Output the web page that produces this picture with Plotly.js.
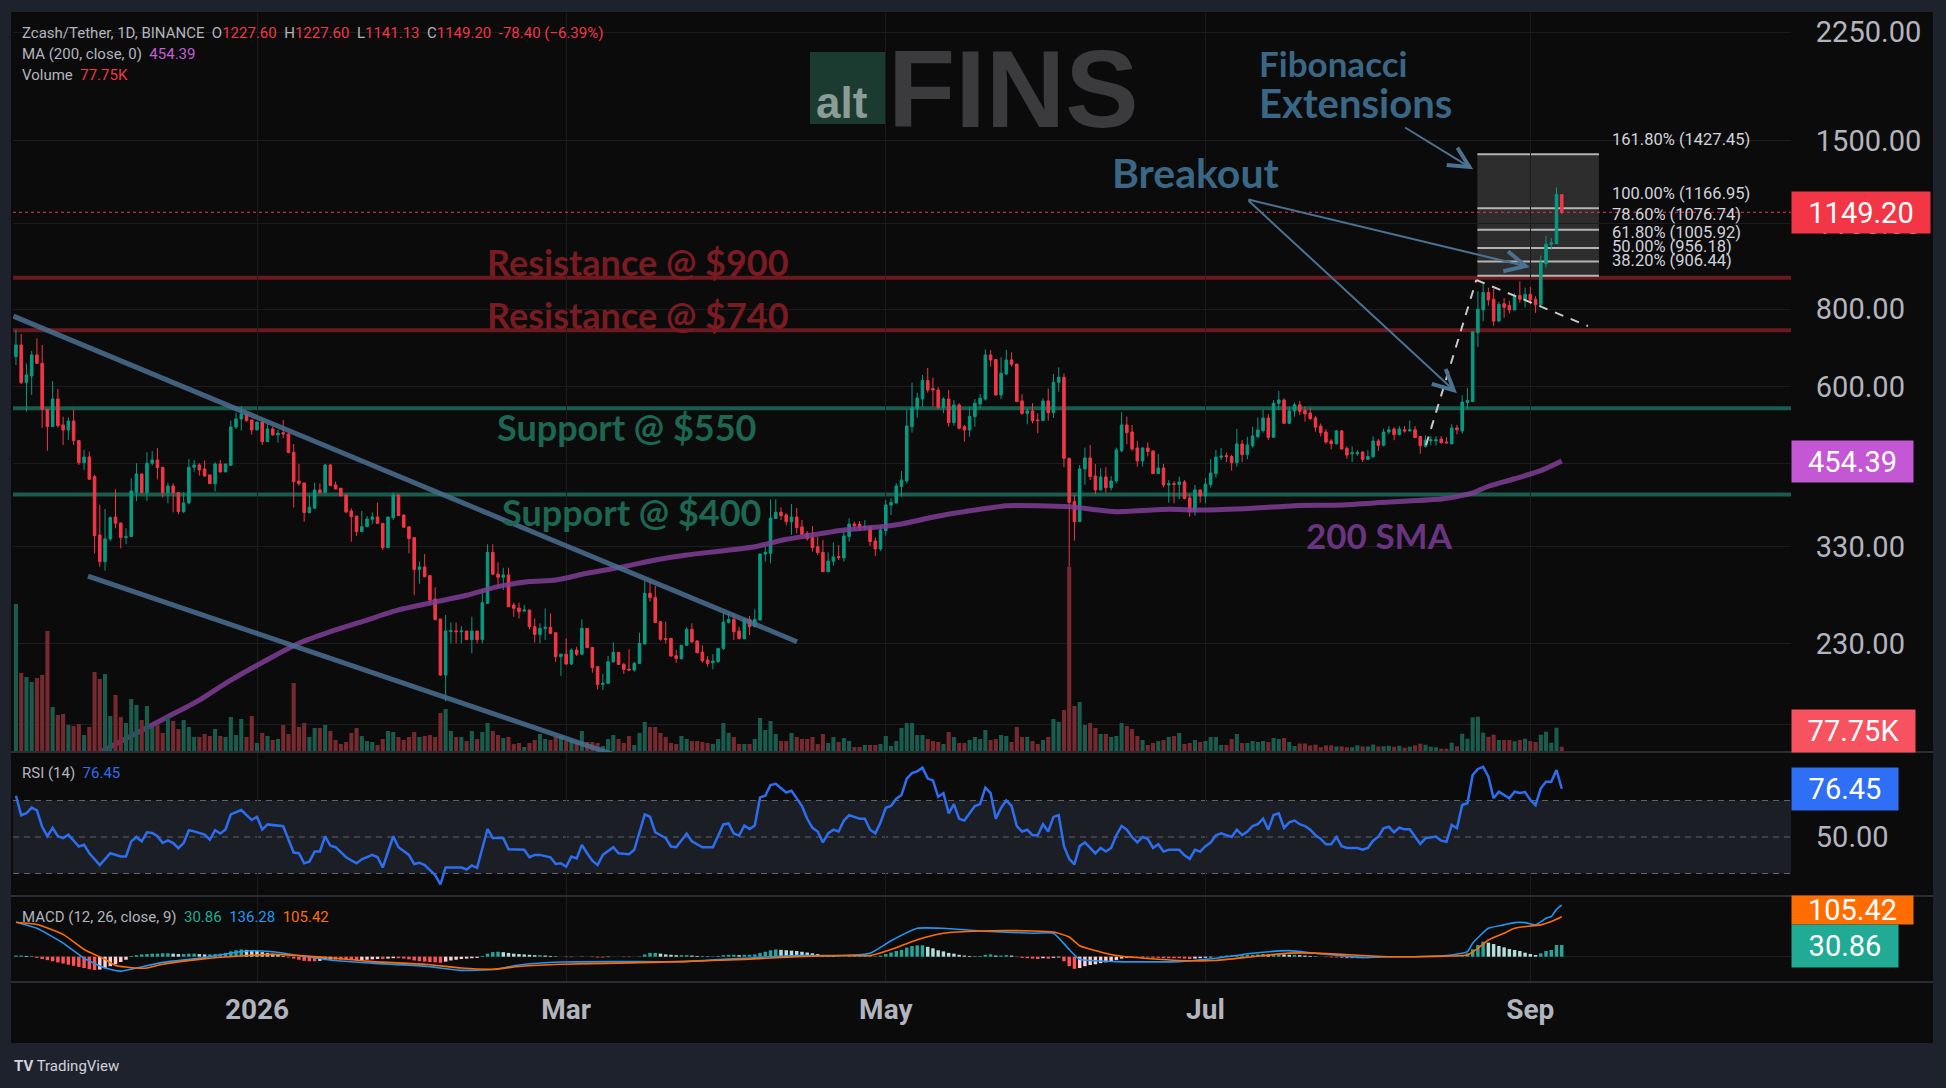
<!DOCTYPE html>
<html><head><meta charset="utf-8">
<script src="https://cdn.plot.ly/plotly-3.0.1.min.js"></script>
<style>html,body{margin:0;padding:0;background:#1e222d;}#chart{width:1946px;height:1088px;}</style>
</head><body><div id="chart"></div>
<script>
// ---------- DATA ----------
const startDate = [2025, 10, 16]; // first candle: 16 Nov 2025 (daily)
const open = [
670.6,700.4,608.6,623.9,674.8,654.1,551.0,516.5,572.6,519.7,
510.1,527.5,490.2,451.5,461.2,428.6,344.7,312.1,339.7,368.6,
360.5,341.3,342.6,404.2,432.9,403.7,450.4,456.1,443.7,403.7,
413.9,403.7,376.1,388.5,443.8,447.6,441.0,431.3,417.5,449.3,
436.1,447.0,515.8,531.5,541.5,529.5,510.1,525.5,488.3,512.0,
500.7,505.0,502.5,469.4,421.7,418.5,374.7,381.0,407.8,403.7,
447.6,415.5,410.4,400.2,377.0,370.0,349.1,355.6,365.5,368.6,
360.0,328.8,367.8,400.2,371.4,355.3,341.3,303.2,305.9,296.2,
271.4,251.9,204.4,240.5,241.0,240.3,240.9,233.3,240.9,233.3,
267.1,323.1,298.0,294.4,297.0,265.4,262.5,259.5,260.6,244.8,
237.9,243.3,244.2,239.4,218.9,221.0,213.0,224.4,221.0,243.3,
226.6,210.9,197.4,198.2,214.8,222.5,212.7,209.0,208.3,213.5,
229.6,277.3,272.9,249.5,234.1,234.4,219.7,217.3,228.4,242.4,
232.1,222.7,216.2,214.0,215.0,225.8,248.6,251.6,240.9,234.1,
251.6,244.8,251.0,321.1,321.9,366.5,375.2,371.4,362.3,368.6,
355.3,346.9,341.3,330.0,323.1,300.6,312.5,318.0,316.4,342.6,
359.2,359.0,354.8,355.6,337.1,327.2,350.3,385.6,388.5,412.9,
421.7,516.5,553.0,572.6,613.2,595.2,592.2,555.0,572.6,524.2,
560.0,516.5,510.1,536.0,562.0,572.6,674.8,663.2,581.3,628.6,
662.3,652.5,568.4,542.8,547.6,529.5,528.2,568.4,544.1,609.4,
620.9,458.9,390.4,362.3,441.0,459.5,429.6,407.8,428.0,411.3,
421.7,472.2,519.7,506.3,477.0,454.4,477.0,471.7,433.4,442.6,
415.5,417.5,416.0,420.2,395.8,376.1,407.8,398.7,416.0,433.4,
460.6,463.5,462.0,451.5,484.1,465.3,481.1,497.6,508.8,533.4,
496.4,563.5,570.5,522.9,547.6,560.2,548.5,543.2,533.5,517.5,
506.2,489.6,484.3,508.3,476.3,466.6,466.6,469.8,457.0,461.4,
489.6,481.6,506.2,511.8,501.3,510.4,508.3,510.4,497.8,479.7,
489.6,489.6,493.0,487.6,484.3,514.0,508.3,564.9,567.0,733.6,
798.2,851.9,830.9,765.6,817.1,811.5,798.2,842.4,830.9,846.0,
830.9,813.8,948.6,1019.9,1022.7,1227.6];
const high = [
740.8,729.8,654.1,685.0,718.0,700.4,551.0,612.4,594.4,536.1,
534.7,549.6,491.4,473.4,470.5,431.3,385.6,379.9,369.1,408.8,
360.5,353.4,426.0,450.4,433.0,469.4,471.7,476.9,444.0,419.0,
418.0,404.7,404.2,457.8,456.1,450.4,455.0,431.3,452.0,456.1,
449.5,528.2,544.1,557.9,544.1,529.5,525.5,532.8,521.6,516.5,
510.1,529.5,503.8,484.1,449.3,419.0,400.2,419.0,418.0,449.3,
449.3,420.7,410.4,400.2,380.7,370.0,377.0,370.0,375.0,389.0,
360.0,369.0,404.2,401.0,371.5,356.5,341.3,312.1,321.1,296.2,
283.6,252.0,255.7,248.8,248.8,245.4,241.0,254.1,241.0,281.8,
332.9,332.9,311.3,305.1,305.1,267.8,267.8,265.4,260.6,252.5,
247.9,262.2,257.3,239.4,221.1,234.4,225.8,227.2,251.6,243.3,
226.6,210.9,205.2,219.4,231.0,222.5,214.0,225.0,214.8,239.4,
290.3,289.6,285.0,249.5,249.5,234.4,224.4,228.4,244.2,247.9,
233.0,228.4,219.4,221.0,225.8,258.0,258.0,257.3,244.8,252.5,
254.7,261.2,321.5,330.0,393.8,393.8,382.2,373.8,387.0,381.3,
364.6,349.9,356.5,342.6,338.4,323.1,335.4,332.0,349.9,366.9,
362.3,363.2,364.6,355.6,341.7,357.0,392.8,395.2,418.0,437.5,
549.6,608.6,586.3,626.3,642.8,620.1,598.1,576.3,592.2,570.5,
563.5,519.7,556.5,572.6,583.4,689.2,687.5,664.8,669.0,687.5,
681.5,652.5,582.8,553.0,563.5,542.8,574.0,595.2,628.6,644.4,
630.2,459.0,400.2,447.6,477.5,482.3,449.3,442.1,443.8,429.6,
477.5,544.8,536.1,519.7,489.6,477.5,487.0,471.7,466.4,449.3,
423.3,421.7,428.6,423.3,401.7,415.5,408.0,426.0,457.8,473.4,
476.9,468.8,465.0,512.1,491.4,497.0,516.5,534.7,549.6,541.5,
570.5,590.0,574.0,556.5,564.9,568.7,556.9,554.5,537.8,522.6,
511.8,493.0,510.4,510.4,479.7,479.7,473.0,471.0,473.0,497.8,
493.0,512.5,517.5,515.4,517.5,517.5,528.4,517.5,497.8,499.9,
498.5,498.5,498.5,496.5,521.2,519.7,580.6,596.3,736.0,855.5,
885.6,867.4,863.9,822.8,834.3,826.3,849.4,888.0,867.4,869.8,
840.1,977.9,1051.5,1044.2,1260.8,1227.6];
const low = [
650.0,605.6,546.2,581.3,652.5,514.6,472.2,516.0,514.6,482.3,
491.4,482.3,447.6,439.4,424.4,321.9,306.3,301.8,336.7,353.4,
328.0,333.0,342.0,391.3,403.7,391.3,446.5,424.3,396.2,388.0,
375.2,372.4,373.8,386.5,436.6,430.2,428.6,417.5,405.3,435.0,
436.0,446.0,512.0,508.8,526.2,501.3,510.0,482.3,488.0,499.4,
486.5,494.5,467.6,381.8,414.4,362.3,373.8,380.0,402.7,403.0,
414.4,408.8,398.7,373.8,336.3,343.5,349.0,355.0,359.2,359.2,
326.0,328.5,364.6,370.5,354.9,321.9,275.3,287.4,294.4,267.1,
250.4,203.8,185.4,230.1,230.0,230.0,233.3,221.6,230.1,230.1,
267.0,297.7,282.5,280.8,263.8,254.1,252.5,258.9,242.4,230.7,
230.1,233.0,237.9,214.8,203.8,212.2,212.2,219.4,220.3,226.4,
206.2,193.8,193.3,198.0,214.0,212.2,205.2,207.5,207.0,213.0,
228.9,268.8,248.6,232.4,230.1,218.9,214.0,216.7,227.8,230.7,
221.6,214.0,210.9,208.8,214.0,224.4,247.9,233.0,233.6,233.6,
237.3,244.5,250.5,312.1,310.1,365.9,364.6,357.4,344.8,346.9,
344.8,337.5,324.0,320.0,300.6,300.5,307.4,314.0,312.1,336.3,
351.2,350.3,350.3,330.8,318.8,325.0,344.0,371.4,387.5,397.7,
418.0,505.0,534.1,556.5,586.3,556.5,551.0,542.8,516.5,518.4,
511.3,488.3,497.6,516.5,553.0,569.0,646.0,579.8,571.9,626.3,
646.0,567.0,539.5,521.0,522.9,503.8,527.5,528.2,533.4,588.6,
443.8,251.6,337.5,362.0,415.5,423.3,401.7,407.0,403.7,406.8,
418.0,469.4,483.5,472.2,445.0,445.0,461.8,433.4,433.0,411.8,
388.9,388.0,393.8,393.8,369.1,370.5,389.0,388.0,411.3,427.0,
456.1,452.6,438.3,444.9,452.0,457.2,477.5,494.5,505.0,491.4,
496.0,549.6,521.6,521.6,535.8,539.3,526.2,529.8,506.9,497.8,
484.3,474.4,483.0,475.0,458.2,452.6,463.3,452.6,455.8,460.1,
471.8,479.7,502.0,491.0,499.9,504.8,506.9,495.8,466.6,477.7,
481.6,481.6,485.0,484.3,484.0,502.0,503.4,550.8,566.0,695.1,
765.6,811.5,752.2,765.0,775.2,787.2,797.0,819.4,805.9,814.9,
789.4,805.9,934.7,999.0,1020.0,1141.13];
const close = [
700.4,608.6,626.3,674.8,654.1,551.0,516.5,572.6,518.4,510.1,
527.5,490.2,451.5,461.2,424.4,343.9,312.1,339.7,367.8,360.1,
341.3,342.6,406.3,432.9,403.7,450.4,456.1,443.2,403.7,413.9,
403.7,376.1,388.5,443.8,447.6,439.4,429.6,417.5,449.3,436.1,
449.3,515.8,531.5,541.5,528.2,510.1,525.5,488.3,512.0,500.7,
503.8,502.5,468.8,420.7,417.5,374.7,382.2,407.8,403.7,447.6,
414.4,409.3,398.7,375.6,369.1,349.1,355.6,365.9,368.6,360.1,
328.8,368.6,400.2,370.5,354.9,340.1,303.2,305.9,295.1,270.4,
251.6,204.4,240.9,241.2,240.3,240.9,233.3,240.9,233.3,267.8,
323.1,297.7,294.4,297.0,263.8,262.2,258.9,260.6,244.8,237.9,
243.3,244.2,238.8,218.9,221.0,213.0,224.4,221.0,243.3,226.4,
210.1,197.4,198.2,214.8,222.5,212.7,208.8,208.3,213.5,230.1,
277.3,272.9,248.6,233.6,233.6,219.4,217.5,228.4,242.4,231.3,
222.2,215.6,213.5,215.4,225.8,249.2,251.6,240.3,234.1,251.6,
244.8,251.6,321.1,323.1,366.9,375.2,370.5,362.3,368.6,354.4,
345.6,340.1,328.8,322.7,300.6,312.8,317.6,316.8,343.5,359.2,
357.0,354.4,355.6,336.3,327.2,351.2,385.6,389.0,413.9,423.3,
517.8,554.4,574.8,613.2,592.2,592.2,555.0,572.6,524.2,560.0,
513.2,510.1,536.1,563.5,574.0,674.8,662.3,581.3,630.2,662.3,
651.6,567.0,542.8,547.6,528.2,528.2,568.4,544.1,609.4,620.9,
458.9,389.4,362.3,441.0,459.5,428.6,407.8,428.0,411.3,421.7,
473.4,519.7,505.0,475.2,454.4,477.0,470.7,433.4,442.6,415.5,
417.5,416.5,420.2,394.8,376.1,407.8,398.7,417.0,434.5,461.2,
462.9,461.8,451.5,484.1,465.3,482.3,498.8,510.1,533.4,496.4,
563.5,570.5,522.9,547.6,560.2,546.8,541.6,532.0,515.4,504.8,
487.6,484.3,508.3,475.0,464.6,468.5,468.5,457.0,462.0,489.6,
481.6,506.2,510.4,501.3,511.8,508.3,510.4,495.8,481.0,491.0,
491.7,491.7,486.3,486.3,514.0,510.4,566.3,569.4,735.5,800.4,
851.9,828.6,765.6,814.9,805.9,798.2,840.1,830.9,846.0,828.6,
813.8,951.2,1019.9,1025.6,1227.6,1149.2];
const volumeK = [
2171,1159,1100,1027,1086,1130,1775,660,543,557,
396,381,411,249,367,1174,1071,1144,528,836,
513,425,778,689,469,675,367,396,279,513,
455,337,469,367,220,220,264,235,337,235,
220,513,249,484,220,528,132,279,235,176,
191,396,264,1012,367,425,220,352,352,396,
308,176,117,147,279,352,235,161,147,103,
191,308,293,220,176,220,293,220,235,249,
220,572,631,308,220,220,161,308,191,293,
425,308,249,205,220,117,132,73,132,176,
264,191,176,220,235,161,176,147,308,147,
147,132,88,191,249,191,132,235,103,279,
440,367,367,279,220,132,117,235,191,161,
161,147,132,117,191,425,279,220,117,117,
117,191,499,323,455,264,161,161,279,220,
191,191,220,117,264,132,220,147,205,161,
73,73,103,103,103,117,235,88,161,352,
425,425,249,249,191,161,147,117,293,220,
132,132,176,220,191,323,176,191,249,235,
147,367,220,220,161,117,176,220,484,440,
616,2714,675,734,396,425,352,264,264,220,
235,425,381,337,235,176,103,132,161,176,
220,235,279,117,132,176,147,161,220,220,
103,103,191,264,132,132,161,147,161,147,
205,191,205,147,88,125,125,98,109,70,
98,98,82,82,70,70,98,82,82,109,
82,84,92,78,92,63,78,98,122,107,
78,69,48,48,136,84,268,195,509,518,
283,224,254,176,176,176,157,176,195,161,
147,254,298,136,356,77.75];
// 200-day SMA read at these candle indices
const maIdx = [16,18,29,35,40,49,54,60,67,73,80,86,92,98,103,109,116,122,128,135,141,147,152,158,165,169,174,179,184,189,195,201,210,220,226,236,244,253,262,272,275,278,281,286,291,295];
const maVal = [153.4,156.4,175,186.2,198.2,218.8,230.1,240.3,251,260.6,268.5,275.3,284.3,289.7,291.4,298.8,306.3,314,319.9,325.1,330,339.2,344.7,351.2,355.6,359.2,366.9,373.8,379.4,384.6,384.6,383.2,376.1,379.4,378.4,380.8,384.6,385.4,389.7,394.1,397.8,403.2,413.5,425.2,438.3,454.39];
// RSI(14) read at these candle indices
const rsiIdx = [0,1,2,3,4,5,6,7,8,9,10,12,13,14,16,18,20,21,22,23,24,25,26,27,28,29,30,31,32,33,34,36,37,38,39,40,41,43,45,46,47,48,51,53,54,55,56,57,58,59,60,61,63,65,66,68,69,70,72,73,75,76,77,78,80,81,82,85,86,87,88,90,91,93,94,97,98,99,100,102,103,104,105,106,107,108,109,110,111,112,114,115,117,118,120,121,122,124,125,126,128,129,131,133,135,136,137,138,139,140,141,142,143,144,145,147,148,150,
151,152,153,154,155,156,157,158,159,160,161,162,163,164,165,166,167,168,169,170,171,172,173,174,175,176,177,178,179,180,
181,182,183,184,185,186,187,188,189,190,191,192,193,194,195,196,197,198,199,200,201,202,203,204,205,206,207,208,209,210,
211,212,213,214,215,216,217,218,219,220,221,222,223,224,225,226,227,228,229,230,231,232,233,234,235,236,237,238,239,240,
241,242,243,244,245,246,247,248,249,250,251,252,253,254,255,256,257,258,259,
260,261,262,263,264,265,266,268,269,271,272,273,274,275,276,277,278,279,280,281,282,283,284,285,286,287,288,289,290,291,292,293,294,295];
const rsiVal = [72.6,61.9,63,66.1,64.6,55.6,50.4,55,50.4,49.4,51.3,44.8,45.7,41.1,34.6,41.1,39.3,39.3,47.6,50,47.6,52.6,52.2,50.4,46.7,48.1,46.7,43.9,46.7,53.7,53.1,51.3,48.5,53.7,51.9,54.1,62.4,64.8,59.3,61.1,54.1,56.9,55.9,41.5,41.1,35.6,36.5,42,42,50.4,45.2,44.4,38.9,35.6,37.8,40.2,38.9,33.3,50.4,44.4,40.2,35.2,35.9,34.6,29.1,24.1,33.3,33.3,32.2,34.4,33.1,54.4,49.4,49.4,43.3,43,38.9,40.2,40.2,38.9,35.2,35.6,33.7,39.3,38.3,45.7,41.1,37,34.6,40.2,44.4,41.1,40.6,43,62.4,61.1,52.6,49.4,44.8,44.4,51.9,47.6,44.4,44.4,56.9,57.4,51.9,50.7,56.3,54.4,56.3,71.7,72.6,78.5,79.1,74.4,75.4,67,
60,55,53,47,52,54,53,59,62,61,60,60,54,52,58,66,67,71,73,82,85,86,88,82,81,72,74,63,68,60,
59,63,67,68,77,74,60,66,70,67,56,53,54,51,51,57,53,61,62,45,38,35,45,47,44,41,44,42,44,51,
56,54,50,47,50,49,44,46,42,43,43,43,40,38,43,42,45,47,51,52,51,50,54,51,53,56,57,60,54,62,
63,55,58,59,57,56,54,51,49,46,46,50,45,44,44,44,43,44,48,
50.2,54.8,55.6,52.6,55.1,54.2,54.2,46.2,49.3,50.2,48,47.4,56.6,54.8,67.5,68.5,84,87.3,88.5,83,71.2,74.8,73,71.2,74.8,74.1,74.6,70.3,67.5,76.7,80.3,80.3,86.7,76.45];
// MACD(12,26,9): MACD line and signal line read at these candle indices
const macdIdx = [0,4,9,13,17,20,23,28,35,44,49,54,61,68,78,85,91,96,104,115,127,139,149,158,163,167,172,177,184,194,198,201,203,210,222,229,236,243,248,257,262,267,274,277,278,281,284,286,288,290,292,293,294,295];
const macdVal = [91,75,36,-4,-30,-38,-30,-15,-4,15,13,3,-10,-17,-25,-36,-34,-22,-14,-13,-13,-4,3,3,9,42,75,75,68,62,62,19,-7,-13,-13,-4,9,16,9,-2,0,0,4.5,13.3,35.3,75,84,90,90,84,101.5,106,125,136.28];
const sigIdx = [0,4,9,13,17,19,23,25,28,35,44,49,54,61,68,78,85,91,96,104,115,127,139,149,158,163,167,172,177,184,194,198,201,203,210,222,229,236,243,248,257,262,267,274,277,279,281,284,286,289,291,293,295];
const sigVal = [91,85,59,19,-7,-23,-30,-30,-20,-7,3,6,3,-4,-13,-20,-30,-33,-26,-20,-17,-13,-7,0,3,3,19,45,62,68,68,65,52,29,3,-10,-10,0,9.5,9.5,3,0,0,1.8,4.5,22,44,62,75,81,84,92.6,105.42];
// MACD histogram, one bar per candle
const histVal = [
3,3,2,2,-3,-6,-9,-12,-15,-18,
-21,-24,-27,-30,-33,-35,-34,-30,-25,-20,
-14,-8,2,4,6,7,8,8,9,9,
8,7,7,8,8,7,6,6,7,8,
10,14,17,19,18,16,15,12,10,8,
5,2,-2,-5,-8,-11,-12,-12,-11,-9,
-8,-8,-8,-9,-9,-10,-9,-8,-7,-6,
-6,-5,-4,-4,-5,-7,-10,-12,-13,-14,
-15,-16,-13,-10,-8,-6,-5,-4,-3,2,
8,12,13,12,10,8,7,6,5,4,
4,3,2,1,0,-1,-1,0,1,0,
-1,-2,-2,-1,0,0,-1,-1,0,1,
6,10,10,8,6,5,4,4,4,3,
2,2,1,1,2,4,5,5,4,5,
5,6,10,13,17,19,18,17,16,15,
13,11,9,7,4,3,2,1,1,2,
2,2,2,1,1,3,7,11,15,18,
24,28,30,30,26,22,17,14,10,8,
5,3,2,2,2,5,6,3,3,4,
3,-1,-3,-4,-5,-6,-4,-5,-3,-2,
-12,-25,-32,-30,-25,-22,-20,-17,-15,-13,
-9,-5,-3,-3,-3,-2,-2,-3,-3,-4,
-4,-4,-4,-5,-6,-5,-4,-3,-2,0,
2,3,3,4,4,5,5,6,7,6,
7,8,6,5,5,4,3,2,1,0,
-1,-2,-2,-3,-4,-4,-4,-4,-4,-3,
-2,-1,0,0,1,1,1,1,0,0,
0,0,-1,-1,0,1,1.8,8.8,19.4,30.8,
39.6,37,33.4,28.2,24.6,20.2,17.6,15,10.6,7,
4.4,8.8,15,17.6,30.8,30.86];
// axes / annotation values
const tickDates = ['2026-01-01','2026-03-01','2026-05-01','2026-07-01','2026-09-01'];
const tickText = ['2026','Mar','May','Jul','Sep'];
const priceTicks = [170,230,330,450,600,800,1100,1500,2250];
const hiddenTicks = [170,450]; // covered by the value boxes on the price scale
const resistance = [900, 740];
const support = [553, 401];
const fibPct = ['161.80%','100.00%','78.60%','61.80%','50.00%','38.20%'];
const fibVal = [1427.45,1166.95,1076.74,1005.92,956.18,906.44];

// ---------- HELPERS ----------
const DAY = 86400000;
const T0 = Date.UTC(startDate[0], startDate[1], startDate[2]);
function dx(i){ return new Date(T0 + i*DAY).toISOString().replace('T',' ').slice(0,19); }
const dates = open.map((_, i) => dx(i));
const L = 13, R = 1791, T = 13, B = 982, W = R - L, H = B - T;
const px = x => (x - L) / W;
const py = y => (B - y) / H;
const lg = v => Math.log10(v);

// ---------- TRACES ----------
const volColors = close.map((c, i) => c >= open[i] ? '#195c4e' : '#762a30');
const histColors = histVal.map((h, i) => {
  const p = i > 0 ? histVal[i-1] : h;
  if (h >= 0) return h >= p ? '#26a69a' : '#b2dfdb';
  return h <= p ? '#ff5252' : '#ffcdd2';
});
const traces = [
  {type:'bar', x:dates, y:volumeK, yaxis:'y2', marker:{color:volColors, line:{width:0}}, width:0.78*DAY, hoverinfo:'skip'},
  {type:'scatter', mode:'lines', x:maIdx.map(dx), y:maVal, line:{color:'rgba(128,62,150,0.85)', width:5, shape:'spline', smoothing:0.6}, hoverinfo:'skip'},
  {type:'candlestick', x:dates, open:open, high:high, low:low, close:close,
   increasing:{line:{color:'#089981', width:1}, fillcolor:'#089981'},
   decreasing:{line:{color:'#f23645', width:1}, fillcolor:'#f23645'},
   whiskerwidth:0, hoverinfo:'skip'},
  {type:'scatter', mode:'lines', x:rsiIdx.map(dx), y:rsiVal, yaxis:'y3', line:{color:'#2d6ef0', width:2.5}, hoverinfo:'skip'},
  {type:'bar', x:dates, y:histVal, yaxis:'y4', marker:{color:histColors, line:{width:0}}, width:0.66*DAY, hoverinfo:'skip'},
  {type:'scatter', mode:'lines', x:macdIdx.map(dx), y:macdVal, yaxis:'y4', line:{color:'#2196f3', width:1.6, shape:'spline', smoothing:0.5}, hoverinfo:'skip'},
  {type:'scatter', mode:'lines', x:sigIdx.map(dx), y:sigVal, yaxis:'y4', line:{color:'#ff6d00', width:1.6, shape:'spline', smoothing:0.5}, hoverinfo:'skip'}
];

// ---------- SHAPES ----------
const shapes = [];
shapes.push({type:'rect', xref:'paper', yref:'paper', x0:px(11), x1:px(1933), y0:py(1043), y1:py(12), fillcolor:'#0b0b0c', line:{width:0}, layer:'below'});
shapes.push({type:'rect', xref:'paper', yref:'y3', x0:0, x1:1, y0:30, y1:70, fillcolor:'#1c1e25', line:{width:0}, layer:'below'});
[70,50,30].forEach(v => shapes.push({type:'line', xref:'paper', yref:'y3', x0:0, x1:1, y0:v, y1:v, line:{color:'#5f636e', width:1.2, dash:'6px,5px'}, layer:'below'}));
shapes.push({type:'line', xref:'paper', yref:'y4', x0:0, x1:1, y0:0, y1:0, line:{color:'#232327', width:1}, layer:'below'});
[752, 896, 982].forEach(y => shapes.push({type:'line', xref:'paper', yref:'paper', x0:px(11), x1:px(1933), y0:py(y), y1:py(y), line:{color:'#2a2d35', width:2}, layer:'above'}));
resistance.forEach(v => shapes.push({type:'line', xref:'paper', yref:'y', x0:0, x1:1, y0:v, y1:v, line:{color:'#6a1a1f', width:4}, layer:'below'}));
support.forEach(v => shapes.push({type:'line', xref:'paper', yref:'y', x0:0, x1:1, y0:v, y1:v, line:{color:'#1a5c4c', width:4}, layer:'below'}));
shapes.push({type:'line', xref:'x', yref:'y', x0:dx(-0.5), y0:780, x1:dx(149.05), y1:231.5, line:{color:'rgba(74,112,146,0.85)', width:5}, layer:'above'});
shapes.push({type:'line', xref:'x', yref:'y', x0:dx(13.75), y0:295.8, x1:dx(118), y1:148, line:{color:'rgba(74,112,146,0.85)', width:5}, layer:'above'});
shapes.push({type:'rect', xref:'x', yref:'y', x0:dx(278.9), x1:dx(302.1), y0:fibVal[5], y1:fibVal[0], fillcolor:'rgba(255,255,255,0.14)', line:{width:0}, layer:'below'});
fibVal.forEach(v => shapes.push({type:'line', xref:'x', yref:'y', x0:dx(278.9), x1:dx(302.1), y0:v, y1:v, line:{color:'#b4b4b6', width:2}, layer:'below'}));
shapes.push({type:'line', xref:'x', yref:'y', x0:dx(269.1), y0:482, x1:dx(278.7), y1:892.5, line:{color:'#c9c9c9', width:2, dash:'9px,8px'}, layer:'above'});
shapes.push({type:'line', xref:'x', yref:'y', x0:dx(278.7), y0:892.5, x1:dx(300), y1:751.8, line:{color:'#c9c9c9', width:2, dash:'9px,8px'}, layer:'above'});
shapes.push({type:'line', xref:'paper', yref:'y', x0:0, x1:1, y0:close[close.length-1], y1:close[close.length-1], line:{color:'#f23645', width:1, dash:'dot'}, layer:'above'});
shapes.push({type:'rect', xref:'paper', yref:'paper', x0:px(810), x1:px(886), y0:py(124), y1:py(52), fillcolor:'#1b3a30', line:{width:0}, layer:'below'});

// ---------- ANNOTATIONS ----------
const ann = [];
function txt(text, x, y, size, color, family, weight){
  ann.push({xref:'paper', yref:'paper', x:px(x), y:py(y), xanchor:'left', yanchor:'middle', text:text, showarrow:false, borderpad:0,
            font:{family:family || 'Roboto', size:size, color:color, weight:weight || 400}});
}
function box(text, y, w, h, bg){
  ann.push({xref:'paper', yref:'paper', x:px(1791), y:py(y), xanchor:'left', yanchor:'middle', text:text, showarrow:false,
            bgcolor:bg, width:w, height:h, borderpad:0, align:'center', valign:'middle',
            font:{family:'Roboto', size:29, color:'#ffffff'}});
}
function arrow(hi, hp, ti, tp){
  ann.push({xref:'x', yref:'y', axref:'x', ayref:'y', x:dx(hi), y:lg(hp), ax:dx(ti), ay:lg(tp), text:'', showarrow:true,
            arrowhead:5, arrowsize:2, arrowwidth:2, arrowcolor:'#4a7292', standoff:0, startstandoff:0});
}
txt('<b>alt</b>', 815, 102, 44, '#8a9c95', 'Liberation Sans');
txt('<b>FINS</b>', 887, 88, 110, '#3b3b3d', 'Liberation Sans');
const g = '#b2b5be', red = '#f23645';
txt(`Zcash/Tether, 1D, BINANCE  O<span style="color:${red}">${open[295].toFixed(2)}</span>  H<span style="color:${red}">${high[295].toFixed(2)}</span>  L<span style="color:${red}">${low[295].toFixed(2)}</span>  C<span style="color:${red}">${close[295].toFixed(2)}</span>  <span style="color:${red}">-78.40 (−6.39%)</span>`, 21, 33, 15, g);
txt(`MA (200, close, 0)  <span style="color:#c35fd6">${maVal[maVal.length-1].toFixed(2)}</span>`, 21, 54, 15, g);
txt(`Volume  <span style="color:${red}">77.75K</span>`, 21, 75, 15, g);
txt(`RSI (14)  <span style="color:#2d6ef0">${rsiVal[rsiVal.length-1].toFixed(2)}</span>`, 21, 773, 15, g);
txt(`MACD (12, 26, close, 9)  <span style="color:#22ab94">30.86</span>  <span style="color:#2196f3">${macdVal[macdVal.length-1].toFixed(2)}</span>  <span style="color:#ff6d00">${sigVal[sigVal.length-1].toFixed(2)}</span>`, 21, 917, 15, g);
txt('Resistance @ $900', 486, 262, 36, '#791b21', 'Lato', 700);
txt('Resistance @ $740', 486, 315, 36, '#791b21', 'Lato', 700);
txt('Support @ $550', 496, 427, 36, '#1d6652', 'Lato', 700);
txt('Support @ $400', 501, 512, 36, '#1d6652', 'Lato', 700);
txt('Fibonacci', 1258, 63, 35, '#3a6785', 'Lato', 700);
txt('Extensions', 1258, 103, 40, '#3a6785', 'Lato', 700);
txt('Breakout', 1111, 173, 41, '#3a6785', 'Lato', 700);
txt('200 SMA', 1305, 535, 35, '#6a3480', 'Lato', 700);
fibVal.forEach((v, k) => ann.push({xref:'x', yref:'y', x:dx(304.2), y:lg(v), yshift:15, xanchor:'left', yanchor:'middle', showarrow:false,
  text:`${fibPct[k]} (${v.toFixed(2)})`, font:{family:'Roboto', size:16.5, color:'#d1d4dc'}}));
arrow(278.1, 1349, 264.8, 1582);
arrow(288.9, 936.7, 234.9, 1207);
arrow(275.0, 585, 234.9, 1207);
box(close[295].toFixed(2), 212.5, 138, 41, '#f23645');
box(maVal[maVal.length-1].toFixed(2), 461.5, 121, 41, '#c457d4');
box('77.75K', 731, 123, 42, '#f7525f');
box(rsiVal[rsiVal.length-1].toFixed(2), 789, 106, 42, '#2f6ff5');
box(sigVal[sigVal.length-1].toFixed(2), 910, 121, 28, '#ff6d00');
box(histVal[histVal.length-1].toFixed(2), 946, 106, 42, '#22ab94');
txt('<b>TV</b> TradingView', 13, 1066, 15, '#d1d4dc');

// ---------- LAYOUT ----------
const gridC = '#1c1c1f';
const layout = {
  width:1946, height:1088,
  margin:{l:L, r:1946-R, t:T, b:1088-B, pad:0},
  paper_bgcolor:'#1e222d', plot_bgcolor:'rgba(0,0,0,0)',
  showlegend:false, hovermode:false, barmode:'overlay',
  xaxis:{type:'date', range:[dx(-0.565), dx(338.75)], anchor:'y4', tickmode:'array', tickvals:tickDates, ticktext:tickText,
         tickfont:{family:'Roboto', size:28, color:'#b2b5be', weight:700}, ticks:'outside', ticklen:2, tickcolor:'rgba(0,0,0,0)',
         showgrid:true, gridcolor:gridC, gridwidth:1, zeroline:false, showline:false, rangeslider:{visible:false}, fixedrange:true},
  yaxis:{domain:[py(752), 1], type:'log', range:[lg(153.4), lg(2417)], side:'right', tickmode:'array', tickvals:priceTicks,
         ticktext:priceTicks.map(v => hiddenTicks.includes(v) ? '' : v.toFixed(2)), tickfont:{family:'Roboto', size:29, color:'#b2b5be'}, ticks:'outside', ticklen:18,
         tickcolor:'rgba(0,0,0,0)', gridcolor:gridC, zeroline:false, showline:false, fixedrange:true},
  yaxis2:{domain:[py(752), 1], overlaying:'y', range:[0, 739*14.67], visible:false, fixedrange:true},
  yaxis3:{domain:[py(896), py(752)], range:[17.67, 96.58], side:'right', tickmode:'array', tickvals:[50], ticktext:['50.00'],
          tickfont:{family:'Roboto', size:29, color:'#b2b5be'}, ticks:'outside', ticklen:18, tickcolor:'rgba(0,0,0,0)',
          showgrid:false, zeroline:false, showline:false, fixedrange:true},
  yaxis4:{domain:[0, py(896)], range:[-66.8, 160.2], side:'right', showticklabels:false, showgrid:false, zeroline:false, showline:false, fixedrange:true},
  shapes:shapes, annotations:ann
};
Plotly.newPlot('chart', traces, layout, {staticPlot:true, displayModeBar:false});
</script>
</body></html>
